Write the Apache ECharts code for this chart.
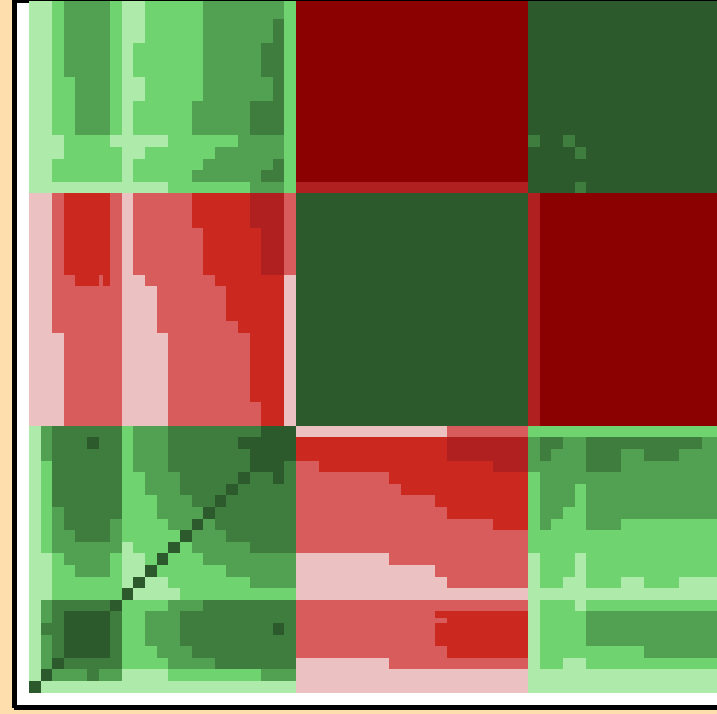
<!DOCTYPE html>
<html>
<head>
<meta charset="utf-8">
<script src="https://cdn.jsdelivr.net/npm/echarts@6/dist/echarts.min.js"></script>
<style>
html,body{margin:0;padding:0;width:717px;height:714px;overflow:hidden;background:#FFDEAD;}
#frame{position:absolute;left:12px;top:0;width:800px;height:702px;background:#fff;border-style:solid;border-color:#000;border-width:3px 5px 3px 5px;box-shadow:2px 2px 0 #000;}
#clip{position:absolute;left:0;top:1px;width:717px;height:713px;overflow:hidden;}
#chart{position:absolute;left:0;top:-10px;width:740px;height:730px;}
</style>
</head>
<body>
<div id="frame"></div>
<div id="clip"><div id="chart"></div></div>
<script>
// Run-length rows, listed from the bottom row upward. Letter = colour level, number = cells.
var leftRows = [
"D1 L22",
"L1 D1 B3 C1 B2 L4 A8 B3",
"L1 B1 D1 C5 A4 B4 C7",
"L1 B1 C1 D4 C1 A3 B3 C9",
"L1 B1 C1 D4 C1 A2 B3 C10",
"L1 C2 D4 C1 A2 B3 C8 D1 C1",
"L1 B1 C1 D4 C1 A2 B3 C10",
"L1 B1 C5 D1 A4 B3 C8",
"L2 A6 D1 L4 A10",
"L2 A6 L1 D1 L2 A7 B4",
"L2 A2 B3 A1 L2 D1 A6 B6",
"L2 A1 B4 A1 L2 A1 D1 A3 B8",
"L1 A1 B6 L1 A3 D1 A1 B5 C4",
"L1 A1 B2 C3 B1 A5 D1 B3 C6",
"L1 A1 B1 C4 B1 A4 B2 D1 B1 C7",
"L1 A1 B1 C5 A3 B4 D1 C7",
"L1 A1 C6 A3 B3 C2 D1 C6",
"L1 A1 C6 A2 B3 C4 D1 C5",
"L1 A1 C6 A2 B3 C5 D1 C2 D1 C1",
"L1 A1 C6 A1 B3 C7 D3 C1",
"L1 B1 C6 A1 B3 C7 D4",
"L1 B1 C3 D1 C2 A1 B3 C6 D5",
"L1 B1 C6 A1 B3 C8 D3",
"P3 r5 P4 r8 R2 P1",
"P3 r5 P4 r8 R2 P1",
"P3 r5 P4 r7 R3 P1",
"P3 r5 P4 r7 R3 P1",
"P3 r5 P4 r7 R3 P1",
"P3 r5 P4 r7 R3 P1",
"P3 r5 P4 r7 R3 P1",
"P3 r5 P4 r7 R3 P1",
"P2 r6 P3 r7 R4 P1",
"P2 r6 P3 r6 R5 P1",
"P2 r6 P3 r6 R5 P1",
"P2 r6 P3 r6 R5 P1",
"P2 r2 R3 r1 P2 r6 R6 P1",
"P2 r1 R4 r1 P1 r6 R5 F2 r1",
"P2 r1 R4 r1 P1 r6 R5 F2 r1",
"P2 r1 R4 r1 P1 r6 R5 F2 r1",
"P2 r1 R4 r1 P1 r6 R5 F2 r1",
"P2 r1 R4 r1 P1 r5 R5 F3 r1",
"P2 r1 R4 r1 P1 r5 R5 F3 r1",
"P2 r1 R4 r1 P1 r5 R5 F3 r1",
"L12 A7 B3 A1",
"L2 A6 L1 A5 B6 C2 A1",
"L2 A6 L1 A6 B6 C1 A1",
"L3 A5 L2 A6 B6 A1",
"L3 A4 L5 A6 B4 A1",
"L2 A2 B3 A1 L1 A5 B5 C3 A1",
"L2 A2 B3 A1 L1 A5 B5 C3 A1",
"L2 A2 B3 A1 L1 A5 B5 C3 A1",
"L2 A2 B3 A1 L2 A5 B6 C1 A1",
"L2 A2 B3 A1 L2 A5 B6 C1 A1",
"L2 A1 B4 A1 L1 A6 B5 C2 A1",
"L2 A1 B4 A1 L1 A6 B5 C2 A1",
"L2 A1 B4 A1 L1 A6 B5 C2 A1",
"L2 A1 B4 A1 L2 A5 B6 C1 A1",
"L2 A1 B4 A1 L2 A5 B6 C1 A1",
"L2 A1 B4 A1 L2 A5 B7 A1",
"L2 A1 B4 A1 L2 A5 B7 A1"
];
var middleRows = [
"P20","P20","P8 r12","r13 R7","r12 R8","r12 R8","r12 R8","r20","P20","P13 r7",
"P12 r8","P8 r12","r20","r20","r17 R3","r13 R7","r12 R8","r9 R11","r8 R12","r2 R15 F3",
"R13 F7","R13 F7","P13 r7",
"D20","D20","D20","D20","D20","D20","D20","D20","D20","D20","D20","D20","D20","D20","D20","D20","D20","D20","D20","D20",
"F20",
"K20","K20","K20","K20","K20","K20","K20","K20","K20","K20","K20","K20","K20","K20","K20","K20"
];
var rightRows = [
"L17","L17","L1 A2 L2 A12","L1 A9 B7","L1 A4 B12","L1 A4 B12","L1 A4 B12","L1 A3 L1 A12","L17",
"L1 A2 L2 A3 L2 A3 L4","L1 A3 L1 A12","L1 A3 L1 A12","A17","A17","A1 B1 A3 B3 A9","A1 B2 A2 B12",
"A1 B3 A1 B12","A1 B3 A1 B12","A1 B16","B5 C3 B9","B1 C1 B3 C3 B2 C3 B4","B1 C2 B2 C10 B2","A17",
"F1 K16","F1 K16","F1 K16","F1 K16","F1 K16","F1 K16","F1 K16","F1 K16","F1 K16","F1 K16",
"F1 K16","F1 K16","F1 K16","F1 K16","F1 K16","F1 K16","F1 K16","F1 K16","F1 K16","F1 K16",
"D4 C1 D12","D17","D17","D4 C1 D12","C1 D2 C1 D13",
"D17","D17","D17","D17","D17","D17","D17","D17","D17","D17","D17","D17"
];
var levelNames = ["D","C","B","A","L","P","r","R","F","K"];
var levelColors = ["#2d5a2d","#3f7d3f","#52a052","#6fd46f","#aeeaaa","#ebc1c1","#d95c5c","#cb291f","#b02020","#8b0000"];
// Two cells are only partly a lighter level: [column, row, level, side of the cell]
var partCells = [[6, 35, 6, "left"], [35, 6, 6, "bottom"]];

function expand(text, width) {
  var out = [];
  text.split(" ").forEach(function (tok) {
    var lvl = levelNames.indexOf(tok[0]), n = parseInt(tok.slice(1), 10);
    for (var i = 0; i < n; i++) out.push(lvl);
  });
  if (out.length !== width) throw new Error("bad row " + text + " " + out.length);
  return out;
}
var cells = [];
var xCategories = [], yCategories = [];
for (var i = 0; i < 60; i++) { xCategories.push(String(i)); yCategories.push(String(i)); }
leftRows.forEach(function (_, r) {
  var row = expand(leftRows[r], 23).concat(expand(middleRows[r], 20), expand(rightRows[r], 17));
  row.forEach(function (v, c) { cells.push([c, r, v]); });
});

function cellBox(api) {
  var p = api.coord([api.value(0), api.value(1)]);
  var s = api.size([1, 1]);
  var x0 = Math.round(p[0] - s[0] / 2), x1 = Math.round(p[0] + s[0] / 2);
  var y0 = Math.round(p[1] - s[1] / 2), y1 = Math.round(p[1] + s[1] / 2);
  return {x0: x0, x1: x1, y0: y0, y1: y1};
}
function drawCell(params, api) {
  var b = cellBox(api);
  return {type: "rect", shape: {x: b.x0, y: b.y0, width: b.x1 - b.x0, height: b.y1 - b.y0},
          style: {fill: levelColors[api.value(2)], stroke: null}};
}
function drawPart(params, api) {
  var b = cellBox(api), w = b.x1 - b.x0, h = b.y1 - b.y0;
  var side = partCells[params.dataIndex][3];
  var shape = side === "left"
    ? {x: b.x0, y: b.y0, width: Math.round(w * 0.38), height: h}
    : {x: b.x0, y: b.y1 - Math.round(h * 0.4), width: w, height: Math.round(h * 0.4)};
  return {type: "rect", shape: shape, style: {fill: levelColors[api.value(2)], stroke: null}};
}

var chart = echarts.init(document.getElementById("chart"), null, {renderer: "canvas"});
chart.setOption({
  backgroundColor: "transparent",
  animation: false,
  tooltip: {show: false},
  grid: {left: 29, top: 5.1, width: 696.6, height: 696.6, containLabel: false},
  xAxis: {type: "category", data: xCategories, show: false},
  yAxis: {type: "category", data: yCategories, show: false},
  series: [
    {type: "custom", data: cells, renderItem: drawCell, silent: true, progressive: 0,
     encode: {x: 0, y: 1}, clip: false},
    {type: "custom", data: partCells.map(function (d) { return d.slice(0, 3); }), renderItem: drawPart,
     silent: true, encode: {x: 0, y: 1}, clip: false, z: 3}
  ]
});
</script>
</body>
</html>
